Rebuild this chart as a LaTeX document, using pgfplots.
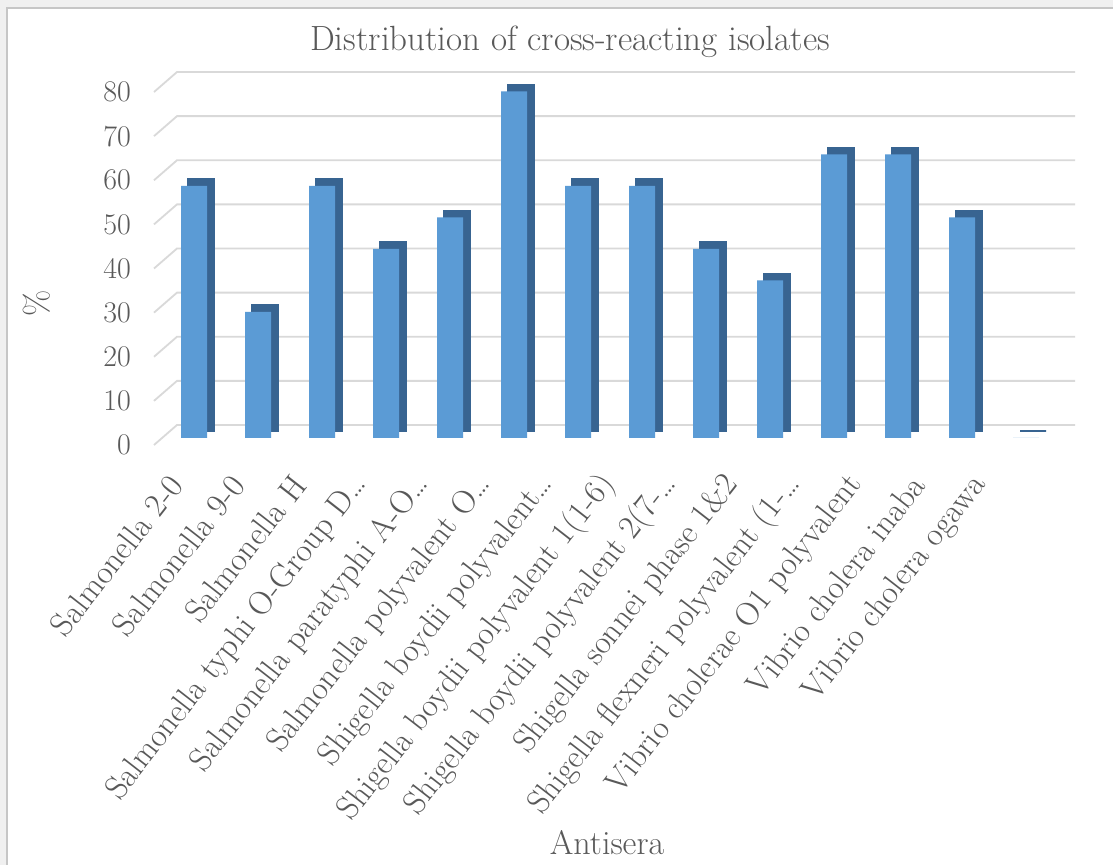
\documentclass[border=0pt]{standalone}
\usepackage{fontspec}
\usepackage{pgfplots}
\pgfplotsset{compat=1.18}
\definecolor{barc}{RGB}{91,155,213}
\definecolor{sidec}{RGB}{56,100,145}
\definecolor{txt}{RGB}{89,89,89}
\definecolor{gridc}{RGB}{217,217,217}
\pgfplotstableread{
x v
0 57.14
1 28.57
2 57.14
3 42.86
4 50.00
5 78.57
6 57.14
7 57.14
8 42.86
9 35.71
10 64.29
11 64.29
12 50.00
13 0
}\data
\begin{document}
\begin{tikzpicture}
\path[use as bounding box, fill=white] (0,0) rectangle (556.5pt,432.5pt);
\fill[gray!12] (0,428.5pt) rectangle (556.5pt,432.5pt);
\fill[gray!12] (0,0) rectangle (3.5pt,432.5pt);
\draw[gray!45, line width=0.8pt] (3.5pt,0) -- (3.5pt,428.5pt) -- (556.5pt,428.5pt);
\node[text=txt, font=\fontsize{17.5}{20}\selectfont] at (285pt,411.5pt) {Distribution of cross-reacting isolates};
\node[text=txt, font=\fontsize{17}{20}\selectfont, rotate=90] at (18.5pt,281pt) {\%};
\node[text=txt, font=\fontsize{17}{20}\selectfont] at (303.5pt,11pt) {Antisera};
\begin{axis}[
  at={(81pt,213.5pt)}, anchor=south west, scale only axis,
  width=448pt, height=176.5pt,
  xmin=-0.5, xmax=13.5, ymin=0, ymax=80,
  clip=false, axis line style={draw=none}, major tick length=0pt,
  ytick={0,10,...,80},
  xtick={0,0.967,1.934,2.901,3.868,4.835,5.802,6.769,7.736,8.703,9.67,10.637,11.604,12.571},
  xticklabels={Salmonella 2-0,Salmonella 9-0,Salmonella H,Salmonella typhi O-Group D\ldots,Salmonella paratyphi A-O\ldots,Salmonella polyvalent O\ldots,Shigella boydii polyvalent\ldots,Shigella boydii polyvalent 1(1-6),Shigella boydii polyvalent 2(7-\ldots,Shigella sonnei phase 1\&2,Shigella flexneri polyvalent (1-\ldots,Vibrio cholerae O1 polyvalent,Vibrio cholera inaba,Vibrio cholera ogawa},
  ticklabel style={text=txt},
  yticklabel style={font=\fontsize{15}{17}\selectfont, xshift=-12pt, yshift=-3.5pt},
  xticklabel style={font=\fontsize{16.5}{19}\selectfont, yshift=-18pt, xshift=-7pt, rotate=52, anchor=east},
  /pgf/number format/assume math mode=true,
]
\pgfplotsinvokeforeach{0,10,20,30,40,50,60,70,80}{
  \draw[gridc, line width=0.9pt] ([shift={(-4pt,-3.5pt)}]axis cs:-0.5,#1) -- ([shift={(7.5pt,6.5pt)}]axis cs:-0.5,#1) -- ([shift={(8.5pt,6.5pt)}]axis cs:13.5,#1);
}
\addplot[ybar, bar shift=0pt, bar width=13pt, fill=sidec, draw=sidec, line width=0.6pt, xshift=3.5pt, yshift=3.5pt] table[x=x, y=v] {\data};
\addplot[ybar, bar shift=0pt, bar width=13pt, fill=barc, draw=none] table[x=x, y=v] {\data};
\end{axis}
\end{tikzpicture}
\end{document}
